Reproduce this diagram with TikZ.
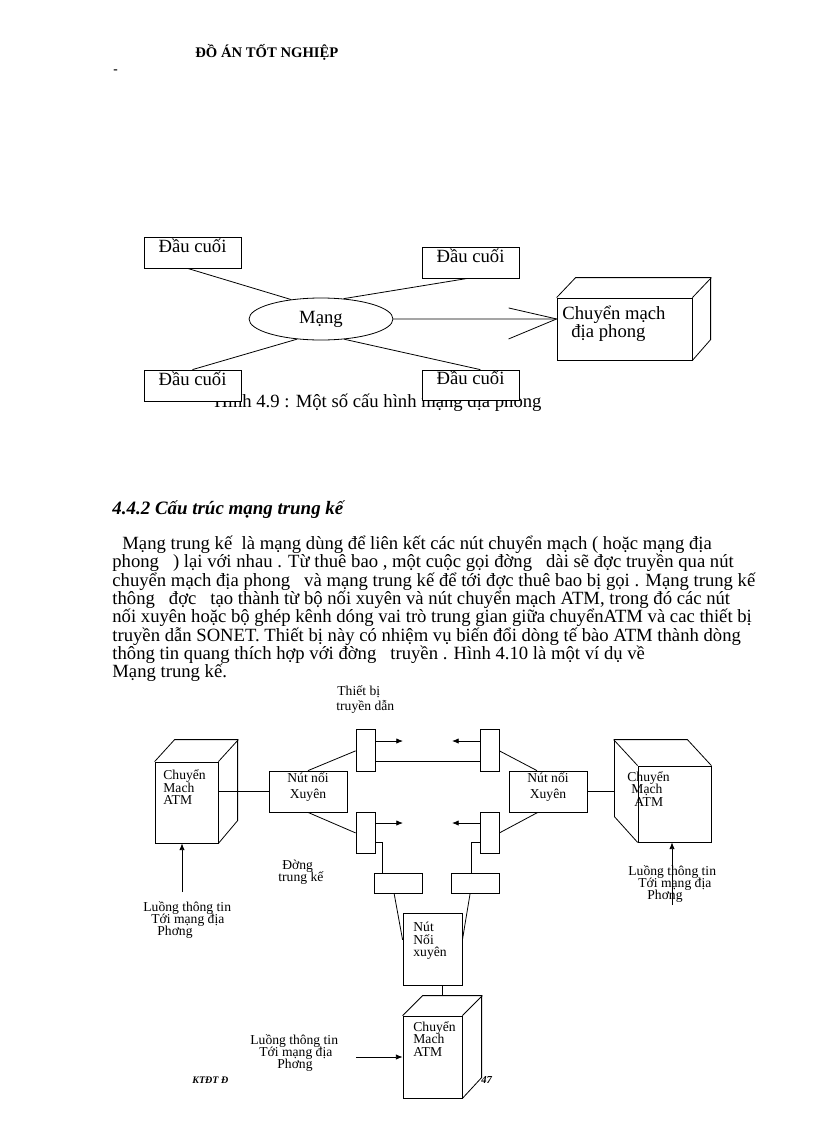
\documentclass[tikz,border=0pt]{standalone}
\usepackage{fontspec}
\setmainfont{Liberation Serif}
\usetikzlibrary{shapes.geometric,arrows.meta,fit,calc}
\begin{document}
\begin{tikzpicture}[x=0.75pt,y=-0.75pt,line width=0.6pt,
  box/.style={draw,fill=white,inner sep=0pt},
  big/.style={font=\fontsize{14}{16}\selectfont},
  sm/.style={font=\fontsize{10.2}{12}\selectfont},
  txt/.style={anchor=base west,inner sep=0pt},
  arr/.style={-{Latex[length=5pt,width=4pt]}}]
\useasboundingbox (0,0) rectangle (816,1123);

% header
\node[txt,font=\bfseries\fontsize{11}{12}\selectfont] (hdr) at (195,58) {ĐỒ ÁN TỐT NGHIỆP};
\node[txt,font=\bfseries\fontsize{10}{12}\selectfont] (dash) at (113,74) {-};

% ---------- Figure 4.9 ----------
\node[txt,big] (cap49) at (214,407) {Hình 4.9 : Một số cấu hình mạng địa phong};
\node[box,big,fit={(144,237)(241,268)}] (t1) {Đầu cuối};
\node[box,big,fit={(144,370)(241,401)}] (t2) {Đầu cuối};
\node[box,big,fit={(422,247)(519,278)}] (t3) {Đầu cuối};
\node[box,big,fit={(422,370)(519,400)}] (t4) {Đầu cuối};
\node[draw,fill=white,ellipse,big,minimum width=108pt,minimum height=31.5pt,inner sep=0pt] (net) at (321,319) {Mạng};

\draw ($(t1.south west)!0.45!(t1.south east)$) -- (net.147);
\draw ($(t3.south west)!0.47!(t3.south east)$) -- (net.42);
\draw (t2.north) -- (net.220);
\draw ($(t4.north west)!0.6!(t4.north east)$) -- (net.319);

\node[box,fit={(557,298)(692,360)}] (sw) {};
\draw (sw.north west) -- ++(19,-20) -- ++(135,0) -- ++(0,62) -- (sw.south east);
\draw (sw.north east) -- ++(19,-20);
\node[txt,big] (swt1) at (562,319) {Chuyển mạch};
\node[txt,big] (swt2) at (571,337) {địa phong};
\coordinate (swin) at ($(sw.north west)!0.34!(sw.south west)$);
\draw (net.east) -- (swin);
\draw ($(swin)+(-48,-11)$) -- (swin) -- ($(swin)+(-48,20)$);

% ---------- Section text ----------
\node[txt,font=\bfseries\itshape\fontsize{14.2}{16}\selectfont] (sec) at (112,514) {4.4.2 Cấu trúc mạng trung kế};
\node[txt,big] (p1) at (122,549) {Mạng trung kế\ \ là mạng dùng để liên kết các nút chuyển mạch ( hoặc mạng địa};
\node[txt,big] (p2) at (112,567) {phong\ \ \ ) lại với nhau . Từ thuê bao , một cuộc gọi đờng\ \ \ dài sẽ đợc truyền qua nút};
\node[txt,big] (p3) at (112,586) {chuyển mạch địa phong\ \ \ và mạng trung kế để tới đợc thuê bao bị gọi . Mạng trung kế};
\node[txt,big] (p4) at (112,604) {thông\ \ \ đợc\ \ \ tạo thành từ bộ nối xuyên và nút chuyển mạch ATM, trong đó các nút};
\node[txt,big] (p5) at (112,622) {nối xuyên hoặc bộ ghép kênh dóng vai trò trung gian giữa chuyểnATM và cac thiết bị};
\node[txt,big] (p6) at (112,641) {truyền dẫn SONET. Thiết bị này có nhiệm vụ biến đổi dòng tế bào ATM thành dòng};
\node[txt,big] (p7) at (112,659) {thông tin quang thích hợp với đờng\ \ \ truyền . Hình 4.10 là một ví dụ về};
\node[txt,big] (p8) at (112,677) {Mạng trung kế.};

% ---------- Figure 4.10 ----------
\node[txt,sm] (tb1) at (337,695) {Thiết bị};
\node[txt,sm] (tb2) at (336,710) {truyền dẫn};

% left ATM switch
\node[box,fit={(155,762)(218,843)}] (lsw) {};
\draw (lsw.north west) -- ++(20,-22) -- ++(63,0) -- ++(0,81) -- (lsw.south east);
\draw (lsw.north east) -- ++(20,-22);
\node[txt,sm] (l1) at (163,779) {Chuyển};
\node[txt,sm] (l2) at (163,792) {Mach};
\node[txt,sm] (l3) at (163,804) {ATM};

% right ATM switch
\node[box,fit={(638,766)(711,842)}] (rsw) {};
\draw (rsw.north east) -- ++(-24,-26) -- ++(-73,0) -- ++(0,77) -- (rsw.south west);
\draw (rsw.north west) -- ++(-24,-26);
\coordinate (rback) at ($(rsw.north west)+(-24,-26)$);
\node[txt,sm] (r1) at (627,781) {Chuyển};
\node[txt,sm] (r2) at (631,793) {Mạch};
\node[txt,sm] (r3) at (634,806) {ATM};

% bottom ATM switch
\node[box,fit={(403,1016)(462,1098)}] (bsw) {};
\draw (bsw.north west) -- ++(20,-20) -- ++(59,0) -- ++(0,82) -- (bsw.south east);
\draw (bsw.north east) -- ++(20,-20);
\coordinate (bback) at ($(bsw.north west)+(20,-20)$);
\node[txt,sm] (b1) at (413,1031) {Chuyển};
\node[txt,sm] (b2) at (413,1043) {Mach};
\node[txt,sm] (b3) at (413,1056) {ATM};

% cross-connect nodes
\node[box,sm,align=center,fit={(269,771)(347,812)}] (nl) {Nút nối\\Xuyên};
\node[box,sm,align=center,fit={(509,771)(587,812)}] (nr) {Nút nối\\Xuyên};
\node[box,fit={(403,913)(462,985)}] (nc) {};
\node[txt,sm] (c1) at (413,931) {Nút};
\node[txt,sm] (c2) at (413,944) {Nối};
\node[txt,sm] (c3) at (413,956) {xuyên};

% transmission devices
\node[box,fit={(356,729)(375,771)}] (d1) {};
\node[box,fit={(356,812)(375,853)}] (d2) {};
\node[box,fit={(480,729)(499,771)}] (d3) {};
\node[box,fit={(480,812)(499,853)}] (d4) {};
\node[box,fit={(374,873)(422,893)}] (s1) {};
\node[box,fit={(451,873)(499,893)}] (s2) {};

% connectors
\draw (nl.west -| lsw.east) -- (nl.west);
\draw (nr.east) -- (nr.east -| rback);
\draw (nl.north) -- ($(d1.north west)!0.52!(d1.south west)$);
\draw (nl.south) -- ($(d2.north west)!0.51!(d2.south west)$);
\draw ($(nr.north west)!0.36!(nr.north east)$) -- ($(d3.north east)!0.52!(d3.south east)$);
\draw ($(nr.south west)!0.37!(nr.south east)$) -- ($(d4.north east)!0.51!(d4.south east)$);

\coordinate (a1) at (403,741);
\coordinate (a2) at (403,823);
\coordinate (a3) at (452,741);
\coordinate (a4) at (452,823);
\draw[arr] (a1 -| d1.east) -- (a1);
\draw[arr] (a2 -| d2.east) -- (a2);
\draw[arr] (a3 -| d3.west) -- (a3);
\draw[arr] (a4 -| d4.west) -- (a4);

\draw ($(d1.north east)!0.76!(d1.south east)$) coordinate (hl) -- (hl -| d3.west);
\draw ($(d2.north east)!0.73!(d2.south east)$) -| ($(s1.north west)!0.19!(s1.north east)$);
\draw ($(d4.north west)!0.73!(d4.south west)$) -| ($(s2.north west)!0.42!(s2.north east)$);
\draw ($(s1.south west)!0.42!(s1.south east)$) -- ($(nc.north west)!0.375!(nc.south west)$);
\draw ($(s2.south west)!0.4!(s2.south east)$) -- ($(nc.north east)!0.375!(nc.south east)$);
\draw ($(nc.south west)!0.66!(nc.south east)$) coordinate (nb) -- (nb |- bback);

% incoming flows
\coordinate (lin) at (182,892);
\draw[arr] (lin) -- (lin |- lsw.south);
\coordinate (rin) at (672,905);
\draw[arr] (rin) -- (rin |- rsw.south);
\coordinate (bin) at (356,1057);
\draw[arr] (bin) -- (bin -| bsw.west);

% labels
\node[txt,sm] (dg1) at (282,869) {Đờng};
\node[txt,sm] (dg2) at (278,881) {trung kế};

\node[txt,sm] (ll1) at (143,911) {Luồng thông tin};
\node[txt,sm] (ll2) at (151,923) {Tới mạng địa};
\node[txt,sm] (ll3) at (157,935) {Phơng};

\node[txt,sm] (rl1) at (628,875) {Luồng thông tin};
\node[txt,sm] (rl2) at (638,887) {Tới mạng địa};
\node[txt,sm] (rl3) at (647,899) {Phơng};

\node[txt,sm] (bl1) at (250,1044) {Luồng thông tin};
\node[txt,sm] (bl2) at (259,1056) {Tới mạng địa};
\node[txt,sm] (bl3) at (277,1068) {Phơng};

% footer
\node[txt,font=\bfseries\itshape\fontsize{7.5}{9}\selectfont] (ftl) at (192,1083) {KTĐT Đ};
\node[txt,font=\bfseries\itshape\fontsize{8}{9}\selectfont] (pg) at (481,1083) {47};
\end{tikzpicture}
\end{document}
